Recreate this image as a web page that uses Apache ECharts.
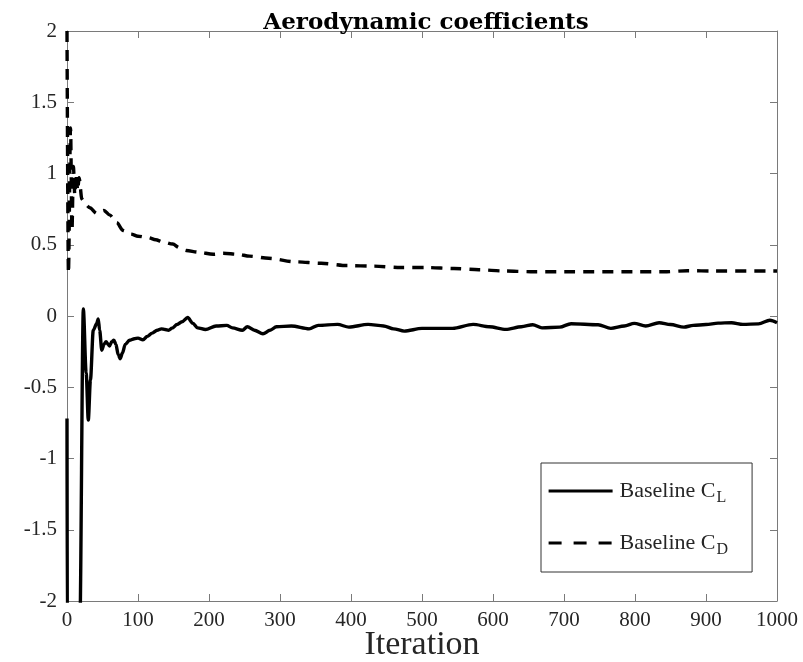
<!DOCTYPE html>
<html>
<head>
<meta charset="utf-8">
<script src="https://cdn.jsdelivr.net/npm/echarts@6/dist/echarts.min.js"></script>
<style>html,body{margin:0;padding:0;background:#fff;overflow:hidden}#c{width:803px;height:662px}</style>
</head>
<body>
<div id="c"></div>
<script>
const chartTitle = 'Aerodynamic coefficients';
const xName = 'Iteration';
const nameCL = 'Baseline CL';
const nameCD = 'Baseline CD';

const iterCL = [0, 0.6, 17, 18, 23, 27, 30, 33, 37, 42, 44, 46, 49, 52, 55, 58, 60, 63, 66, 69, 72, 75, 78, 82, 88, 95, 100, 107, 113, 120, 127, 133, 138, 143, 148, 155, 162, 170, 177, 184, 195, 210, 225, 233, 247, 254, 264, 276, 286, 295, 316, 341, 354, 381, 397, 424, 446, 460, 475, 500, 543, 572, 595, 618, 640, 656, 669, 694, 710, 748, 766, 785, 799, 815, 834, 850, 869, 882, 900, 917, 936, 952, 974, 990, 1000];
const valCL = [-0.72, -2.6, -2.6, -2.2, 0.05, -0.4, -0.73, -0.45, -0.1, -0.05, -0.02, -0.1, -0.24, -0.2, -0.18, -0.2, -0.21, -0.18, -0.17, -0.2, -0.27, -0.3, -0.26, -0.2, -0.17, -0.16, -0.155, -0.167, -0.143, -0.12, -0.1, -0.09, -0.095, -0.1, -0.085, -0.06, -0.04, -0.01, -0.05, -0.083, -0.095, -0.07, -0.066, -0.083, -0.1, -0.075, -0.1, -0.125, -0.1, -0.075, -0.07, -0.09, -0.066, -0.059, -0.078, -0.059, -0.07, -0.09, -0.106, -0.087, -0.087, -0.059, -0.075, -0.094, -0.075, -0.061, -0.083, -0.078, -0.054, -0.061, -0.087, -0.07, -0.052, -0.07, -0.047, -0.06, -0.078, -0.066, -0.06, -0.05, -0.047, -0.059, -0.055, -0.03, -0.047];

const iterCD = [0, 2, 5, 7, 9, 11, 13, 15, 17, 21, 25, 32, 42, 52, 60, 70, 79, 90, 100, 114, 125, 135, 149, 158, 168, 185, 206, 220, 241, 257, 284, 322, 358, 395, 432, 470, 508, 545, 580, 615, 653, 700, 800, 845, 874, 912, 1000];
const valCD = [2.0, 0.3, 1.32, 0.6, 1.05, 0.85, 1.0, 0.88, 0.97, 0.82, 0.79, 0.76, 0.72, 0.74, 0.71, 0.655, 0.6, 0.575, 0.56, 0.55, 0.535, 0.52, 0.505, 0.48, 0.46, 0.448, 0.433, 0.44, 0.433, 0.42, 0.405, 0.38, 0.37, 0.354, 0.35, 0.34, 0.34, 0.333, 0.325, 0.316, 0.311, 0.311, 0.311, 0.311, 0.318, 0.316, 0.316];

const xMin = 0, xMax = 1000, xStep = 100;
const yMin = -2, yMax = 2, yStep = 0.5;

const serif = 'Liberation Serif';
const axisColor = '#7a7a7a';
const labelColor = '#262626';

const pairs = (xs, ys) => xs.map((x, i) => [x, ys[i]]);

const dom = document.getElementById('c');
const chart = echarts.init(dom, null, {renderer: 'canvas', width: 803, height: 662});

const tickStyle = {show: true, inside: true, length: 7, lineStyle: {color: axisColor, width: 1}};
const lineStyleAxis = {show: true, onZero: false, lineStyle: {color: axisColor, width: 1}};

chart.setOption({
  animation: false,
  backgroundColor: '#fff',
  title: {
    text: chartTitle,
    left: 421, top: 7, textAlign: 'center',
    textStyle: {fontFamily: 'DejaVu Serif', fontWeight: 'bold', fontSize: 23, color: '#000'}
  },
  grid: {left: 67, right: 26, top: 31, bottom: 61, containLabel: false, outerBoundsMode: 'none'},
  legend: {
    orient: 'vertical',
    left: 541, top: 463,
    padding: [17, 24, 14, 6],
    itemGap: 26,
    itemWidth: 64, itemHeight: 16,
    borderColor: '#333', borderWidth: 1, borderRadius: 0,
    backgroundColor: '#fff',
    data: [
      {name: nameCL, lineStyle: {width: 3.2, type: 'solid', color: '#000'}},
      {name: nameCD, lineStyle: {width: 3.2, type: [13, 12], color: '#000'}}
    ],
    itemStyle: {color: 'transparent', borderWidth: 0, opacity: 0},
    formatter: function (n) {
      return n === nameCL ? 'Baseline C{s|L}' : 'Baseline C{s|D}';
    },
    textStyle: {
      fontFamily: serif, fontSize: 22, color: labelColor, padding: [0, 0, 0, 2],
      rich: {s: {fontFamily: serif, fontSize: 16, color: labelColor, padding: [14, 0, 0, 1]}}
    }
  },
  xAxis: [
    {
      type: 'value', min: xMin, max: xMax, interval: xStep, position: 'bottom',
      axisLine: lineStyleAxis, axisTick: tickStyle, splitLine: {show: false},
      axisLabel: {fontFamily: serif, fontSize: 21, color: labelColor, margin: 9, formatter: v => String(v)},
      name: xName, nameLocation: 'middle', nameGap: 27, nameMoveOverlap: false,
      nameTextStyle: {fontFamily: serif, fontSize: 34, color: labelColor}
    },
    {
      type: 'value', min: xMin, max: xMax, interval: xStep, position: 'top',
      axisLine: lineStyleAxis, axisTick: tickStyle, splitLine: {show: false},
      axisLabel: {show: false}
    }
  ],
  yAxis: [
    {
      type: 'value', min: yMin, max: yMax, interval: yStep, position: 'left',
      axisLine: lineStyleAxis, axisTick: tickStyle, splitLine: {show: false},
      axisLabel: {fontFamily: serif, fontSize: 21, color: labelColor, margin: 10, formatter: v => String(v)}
    },
    {
      type: 'value', min: yMin, max: yMax, interval: yStep, position: 'right',
      axisLine: lineStyleAxis, axisTick: tickStyle, splitLine: {show: false},
      axisLabel: {show: false}
    }
  ],
  series: [
    {
      name: nameCL, type: 'line', xAxisIndex: 0, yAxisIndex: 0,
      data: pairs(iterCL, valCL), showSymbol: false, symbol: 'none',
      smooth: 0.3, smoothMonotone: 'x', clip: true,
      lineStyle: {color: '#000', width: 3.4, type: 'solid'},
      itemStyle: {color: '#000'}
    },
    {
      name: nameCD, type: 'line', xAxisIndex: 0, yAxisIndex: 0,
      data: pairs(iterCD, valCD), showSymbol: false, symbol: 'none',
      smooth: 0.3, smoothMonotone: 'x', clip: true,
      lineStyle: {color: '#000', width: 3.4, type: [11, 8]},
      itemStyle: {color: '#000'}
    }
  ]
});
</script>
</body>
</html>
